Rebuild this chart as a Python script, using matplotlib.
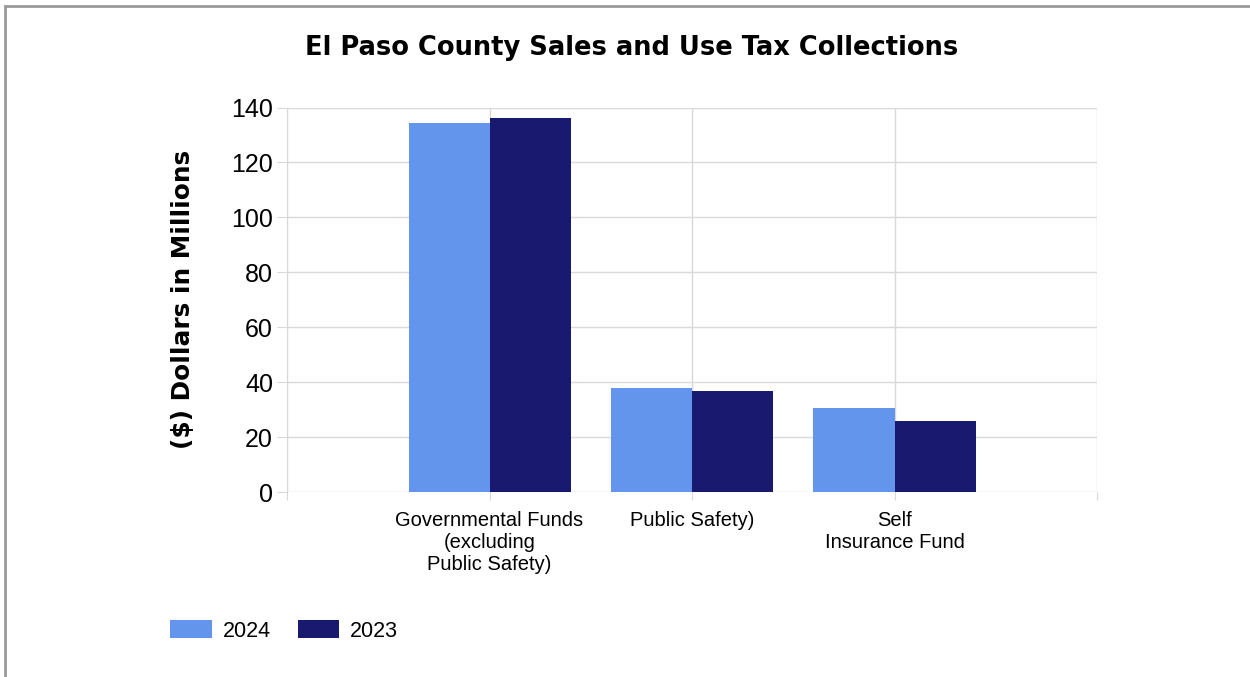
import numpy as np
import matplotlib.pyplot as plt
from matplotlib.patches import Rectangle

categories = ["Governmental Funds\n(excluding\nPublic Safety)", "Public Safety)", "Self\nInsurance Fund"]
vals_2024 = [134.4, 37.8, 30.5]
vals_2023 = [136.0, 36.9, 26.0]
col_2024 = "#6495ED"
col_2023 = "#191970"

fig = plt.figure(figsize=(12.5, 6.77), dpi=100)
ax = fig.add_axes([287/1250, 1-492/677, 810/1250, 384.5/677])

x = np.arange(1, len(categories)+1)
w = 0.4
ax.bar(x - w/2, vals_2024, w, color=col_2024, label="2024", zorder=3)
ax.bar(x + w/2, vals_2023, w, color=col_2023, label="2023", zorder=3)

ax.set_xlim(0, 4)
ax.set_ylim(0, 140)
ax.set_yticks(range(0, 141, 20))
ax.set_xticks([0, 1, 2, 3, 4])
ax.set_xticklabels([])
ax.grid(True, color="#d9d9d9", lw=1, zorder=0)
for s in ax.spines.values():
    s.set_visible(False)
ax.spines["left"].set_visible(True)
ax.spines["left"].set_color("#d9d9d9")
ax.tick_params(axis="y", length=7, color="#d9d9d9", labelsize=18, pad=3)
ax.tick_params(axis="x", length=6, color="#d9d9d9", direction="out")
for t in ax.get_yticklabels():
    t.set_family("Liberation Sans")

for xi, lab in zip(x, categories):
    ax.text(xi, -6.8, lab, ha="center", va="top", fontsize=14.5,
            family="Liberation Sans", linespacing=1.22)

ax.set_ylabel("($) Dollars in Millions", fontsize=17.8, fontweight="bold",
              family="DejaVu Sans")
ax.yaxis.set_label_coords(-0.113, 0.5)

fig.text(0.505, 1-48/677, "El Paso County Sales and Use Tax Collections",
         ha="center", va="center", fontsize=18.5, fontweight="bold", family="DejaVu Sans")

leg = fig.legend(loc="center left", bbox_to_anchor=(151/1250, 1-631/677), ncol=2,
                 frameon=False, prop={"family": "Liberation Sans", "size": 15.5},
                 handlelength=1.95, handleheight=0.85, columnspacing=1.25, handletextpad=0.47)

fig.patches.append(Rectangle((5/1250, -0.1), 1.2, 1-6/677+0.1, transform=fig.transFigure,
                             fill=False, ec="#999999", lw=2))

fig.savefig("out.png", dpi=100)
